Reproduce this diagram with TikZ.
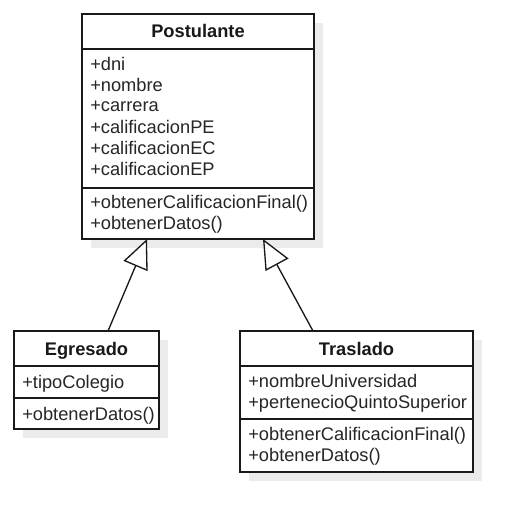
\documentclass[tikz,border=0pt]{standalone}
\usepackage{fontspec}
\setmainfont{Liberation Sans}
\usetikzlibrary{arrows.meta,shadows}
\begin{document}
\begin{tikzpicture}[x=0.75pt,y=-0.75pt]
\tikzset{
 cls/.style={draw=black!90, line width=1pt, fill=white, anchor=north west, inner sep=0pt, outer sep=0pt,
   drop shadow={shadow xshift=6.75pt,shadow yshift=-6.75pt,fill=black!8,opacity=1}},
 ttl/.style={font=\fontsize{13.7}{16}\selectfont\bfseries, anchor=base, inner sep=0pt, text=black!90},
 mem/.style={font=\fontsize{13.7}{16}\selectfont, anchor=base west, inner sep=0pt, text=black!85},
 sep/.style={draw=black!90, line width=1pt},
 inh/.style={draw=black!90, line width=1pt, -{Triangle[open,length=22pt,width=19.5pt,fill=white]}}
}
\useasboundingbox (0,0) rectangle (528,528);
% Postulante
\node[cls, minimum width=174pt, minimum height=168.75pt] (post) at (82,14) {};
\draw[sep] (82,49) -- (314,49);
\draw[sep] (82,188) -- (314,188);
\node[ttl] (post-t) at (198,38) {Postulante};
\foreach \t [count=\i] in {+dni,+nombre,+carrera,+calificacionPE,+calificacionEC,+calificacionEP}
  \node[mem] (post-a\i) at (90,{49+21*\i}) {\t};
\foreach \t [count=\i] in {+obtenerCalificacionFinal(),+obtenerDatos()}
  \node[mem] (post-m\i) at (90,{187+21*\i}) {\t};
% Egresado
\node[cls, minimum width=108.75pt, minimum height=73.5pt] (egr) at (14,331) {};
\draw[sep] (14,366) -- (159,366);
\draw[sep] (14,398) -- (159,398);
\node[ttl] (egr-t) at (86.5,355) {Egresado};
\node[mem] (egr-a1) at (22,388) {+tipoColegio};
\node[mem] (egr-m1) at (22,420) {+obtenerDatos()};
% Traslado
\node[cls, minimum width=174.75pt, minimum height=105.75pt] (tras) at (240,331) {};
\draw[sep] (240,366) -- (473,366);
\draw[sep] (240,419) -- (473,419);
\node[ttl] (tras-t) at (356.5,355) {Traslado};
\foreach \t [count=\i] in {+nombreUniversidad,+pertenecioQuintoSuperior}
  \node[mem] (tras-a\i) at (248,{366+21*\i}) {\t};
\foreach \t [count=\i] in {+obtenerCalificacionFinal(),+obtenerDatos()}
  \node[mem] (tras-m\i) at (248,{419+21*\i}) {\t};
% inheritance
\draw[inh] ([xshift=70.5pt]egr.north west) -- ([xshift=48.75pt]post.south west);
\draw[inh] ([xshift=54.75pt]tras.north west) -- ([xshift=135.75pt]post.south west);
\end{tikzpicture}
\end{document}
